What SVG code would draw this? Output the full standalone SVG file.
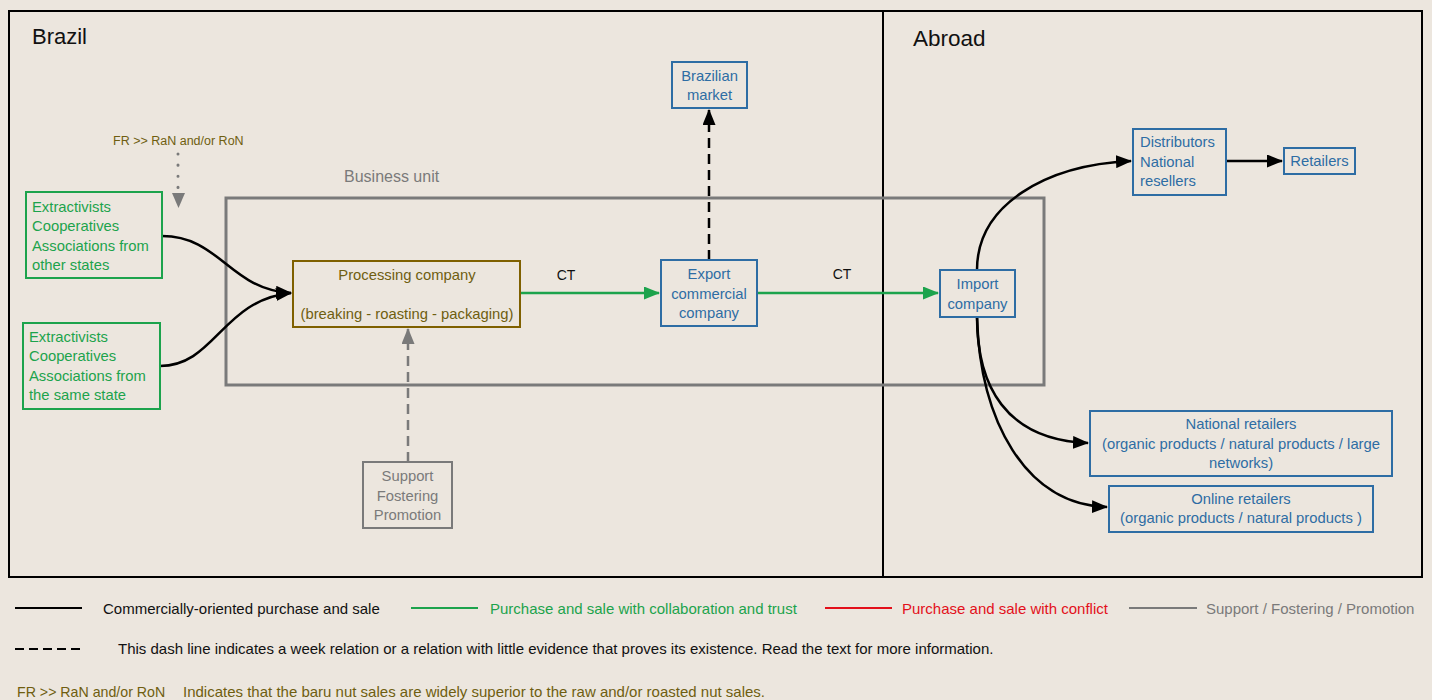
<svg xmlns="http://www.w3.org/2000/svg" width="1432" height="700" viewBox="0 0 1432 700">
<defs>
<style>
text{font-family:"Liberation Sans",Arial,sans-serif;font-size:14.8px}
.g{fill:#1ca34c}.b{fill:#2e6da4}.o{fill:#6f5e10}.gr{fill:#7a7a7a}.k{fill:#111}.r{fill:#e3101a}
.bx{fill:none;stroke-width:2}
.bg{stroke:#1ca34c}.bb{stroke:#2e6da4}.bo{stroke:#7f6000}.bgr{stroke:#7a7a7a}
.c{fill:none;stroke-width:2.5}
.m{text-anchor:middle}
.lg{font-size:15px}
</style>
<marker id="ak" viewBox="0 0 16 13" refX="15" refY="6.5" markerWidth="16" markerHeight="13" markerUnits="userSpaceOnUse" orient="auto"><path d="M0,0L16,6.5L0,13z" fill="#000"/></marker>
<marker id="ag" viewBox="0 0 16 13" refX="15" refY="6.5" markerWidth="16" markerHeight="13" markerUnits="userSpaceOnUse" orient="auto"><path d="M0,0L16,6.5L0,13z" fill="#1ca34c"/></marker>
<marker id="agr" viewBox="0 0 16 13" refX="15" refY="6.5" markerWidth="16" markerHeight="13" markerUnits="userSpaceOnUse" orient="auto"><path d="M0,0L16,6.5L0,13z" fill="#7a7a7a"/></marker>
</defs>
<rect width="1432" height="700" fill="#ece6de"/>
<g id="regions">
<rect x="9" y="11" width="874" height="566" fill="none" stroke="#000" stroke-width="2"/>
<rect x="883" y="11" width="539" height="566" fill="none" stroke="#000" stroke-width="2"/>
<text x="32" y="44" class="k" style="font-size:22px">Brazil</text>
<text x="913" y="46" class="k" style="font-size:22.5px">Abroad</text>
</g>
<g id="business-unit">
<rect x="226" y="198" width="818" height="187" fill="none" stroke="#7a7a7a" stroke-width="3"/>
<text x="344" y="182" class="gr" style="font-size:16px">Business unit</text>
</g>
<g id="connectors">
<path d="M178,154V188" stroke="#7a7a7a" stroke-width="3" stroke-dasharray="0.1,11" fill="none" stroke-linecap="round"/>
<path d="M172,193L185,193L178.5,208z" fill="#7a7a7a"/>
<path class="c" stroke="#000" d="M162,236C220,236 230,290 291,293" marker-end="url(#ak)"/>
<path class="c" stroke="#000" d="M160,366C215,366 222,300 291,293" marker-end="url(#ak)"/>
<path class="c" stroke="#7a7a7a" stroke-dasharray="10,6" d="M408,462V329" marker-end="url(#agr)"/>
<path class="c" stroke="#1ca34c" d="M520,293H659" marker-end="url(#ag)"/>
<path class="c" stroke="#000" stroke-dasharray="10,6" d="M709,260V110" marker-end="url(#ak)"/>
<path class="c" stroke="#1ca34c" d="M757,293H938" marker-end="url(#ag)"/>
<path class="c" stroke="#000" d="M977,270C977,205 1045,165 1131,161" marker-end="url(#ak)"/>
<path class="c" stroke="#000" d="M1226,161H1282" marker-end="url(#ak)"/>
<path class="c" stroke="#000" d="M977,317C977,385 1005,440 1088,443" marker-end="url(#ak)"/>
<path class="c" stroke="#000" d="M977,317C980,420 1025,505 1107,507" marker-end="url(#ak)"/>
<text x="566" y="280" class="k m" style="font-size:14px">CT</text>
<text x="842" y="279" class="k m" style="font-size:14px">CT</text>
</g>
<g id="fr-note"><text x="113" y="145" class="o" style="font-size:12.5px">FR &gt;&gt; RaN and/or RoN</text></g>
<g id="ext-other">
<rect x="26" y="192" width="136" height="86" class="bx bg"/>
<text class="g"><tspan x="32" y="212">Extractivists</tspan><tspan x="32" y="231">Cooperatives</tspan><tspan x="32" y="251">Associations from</tspan><tspan x="32" y="270">other states</tspan></text>
</g>
<g id="ext-same">
<rect x="23" y="323" width="137" height="86" class="bx bg"/>
<text class="g"><tspan x="29" y="342">Extractivists</tspan><tspan x="29" y="361">Cooperatives</tspan><tspan x="29" y="381">Associations from</tspan><tspan x="29" y="400">the same state</tspan></text>
</g>
<g id="processing">
<rect x="293" y="261" width="227" height="66" class="bx bo"/>
<text class="o m"><tspan x="407" y="280">Processing company</tspan><tspan x="407" y="319">(breaking - roasting - packaging)</tspan></text>
</g>
<g id="support">
<rect x="363" y="462" width="89" height="66" class="bx bgr"/>
<text class="gr m"><tspan x="407.5" y="481">Support</tspan><tspan x="407.5" y="501">Fostering</tspan><tspan x="407.5" y="520">Promotion</tspan></text>
</g>
<g id="export">
<rect x="661" y="260" width="96" height="66" class="bx bb"/>
<text class="b m"><tspan x="709" y="279">Export</tspan><tspan x="709" y="299">commercial</tspan><tspan x="709" y="318">company</tspan></text>
</g>
<g id="brazilian-market">
<rect x="672" y="62" width="75" height="46" class="bx bb"/>
<text class="b m"><tspan x="709.5" y="81">Brazilian</tspan><tspan x="709.5" y="100">market</tspan></text>
</g>
<g id="import">
<rect x="940" y="270" width="75" height="47" class="bx bb"/>
<text class="b m"><tspan x="977.5" y="289">Import</tspan><tspan x="977.5" y="309">company</tspan></text>
</g>
<g id="distributors">
<rect x="1133" y="129" width="93" height="66" class="bx bb"/>
<text class="b"><tspan x="1140" y="147">Distributors</tspan><tspan x="1140" y="167">National</tspan><tspan x="1140" y="186">resellers</tspan></text>
</g>
<g id="retailers">
<rect x="1284" y="148" width="71" height="26" class="bx bb"/>
<text class="b m" x="1319.5" y="166">Retailers</text>
</g>
<g id="national-retailers">
<rect x="1090" y="411" width="302" height="65" class="bx bb"/>
<text class="b m"><tspan x="1241" y="429">National retailers</tspan><tspan x="1241" y="449">(organic products / natural products / large</tspan><tspan x="1241" y="468">networks)</tspan></text>
</g>
<g id="online-retailers">
<rect x="1109" y="486" width="264" height="46" class="bx bb"/>
<text class="b m"><tspan x="1241" y="504">Online retailers</tspan><tspan x="1241" y="523">(organic products / natural products )</tspan></text>
</g>
<g id="legend">
<line x1="15" y1="608" x2="82" y2="608" stroke="#000" stroke-width="2"/>
<text x="103" y="614" class="k lg">Commercially-oriented purchase and sale</text>
<line x1="411" y1="608" x2="478" y2="608" stroke="#1ca34c" stroke-width="2"/>
<text x="490" y="614" class="g lg">Purchase and sale with collaboration and trust</text>
<line x1="825" y1="608" x2="892" y2="608" stroke="#e3101a" stroke-width="2"/>
<text x="902" y="614" class="r lg">Purchase and sale with conflict</text>
<line x1="1129" y1="608" x2="1197" y2="608" stroke="#7a7a7a" stroke-width="2"/>
<text x="1206" y="614" class="gr lg">Support / Fostering / Promotion</text>
<line x1="15" y1="649" x2="82" y2="649" stroke="#000" stroke-width="2" stroke-dasharray="9,5"/>
<text x="118" y="654" class="k lg">This dash line indicates a week relation or a relation with little evidence that proves its existence. Read the text for more information.</text>
<text x="17" y="697" class="o" style="font-size:14.2px">FR &gt;&gt; RaN and/or RoN</text>
<text x="183" y="697" class="o lg">Indicates that the baru nut sales are widely superior to the raw and/or roasted nut sales.</text>
</g>
</svg>
